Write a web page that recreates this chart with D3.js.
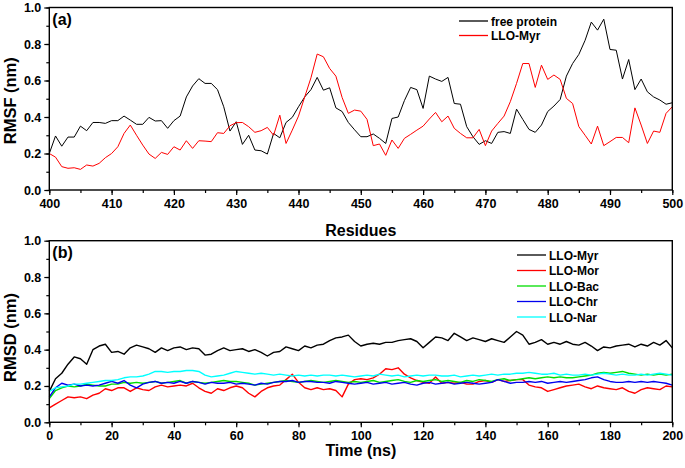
<!DOCTYPE html>
<html>
<head>
<meta charset="utf-8">
<script src="https://cdn.jsdelivr.net/npm/d3@7"></script>
<style>
  body { margin: 0; background: #fff; }
  svg { display: block; font-family: "Liberation Sans", Arial, sans-serif; font-weight: bold; }
</style>
</head>
<body>
<div id="svg-container"></div>
<script>
// panel (a): RMSF per residue
const residues = [400,401,402,403,404,405,406,407,408,409,410,411,412,413,414,415,416,417,418,419,
  420,421,422,423,424,425,426,427,428,429,430,431,432,433,434,435,436,437,438,439,
  440,441,442,443,444,445,446,447,448,449,450,451,452,453,454,455,456,457,458,459,
  460,461,462,463,464,465,466,467,468,469,470,471,472,473,474,475,476,477,478,479,
  480,481,482,483,484,485,486,487,488,489,490,491,492,493,494,495,496,497,498,499,500]

const rmsfFree = [0.20,0.296,0.24,0.29,0.29,0.35,0.325,0.37,0.37,0.365,0.38,0.38,0.405,0.383,0.36,0.36,0.398,0.378,0.38,0.338,
  0.38,0.405,0.51,0.57,0.61,0.584,0.584,0.55,0.456,0.323,0.374,0.25,0.30,0.219,0.215,0.197,0.31,0.286,0.37,0.398,
  0.456,0.51,0.55,0.617,0.547,0.56,0.45,0.43,0.37,0.33,0.292,0.292,0.307,0.283,0.255,0.392,0.40,0.49,0.562,0.55,
  0.447,0.624,0.608,0.595,0.617,0.474,0.47,0.347,0.292,0.25,0.27,0.255,0.316,0.32,0.31,0.443,0.387,0.332,0.316,0.356,
  0.43,0.46,0.496,0.624,0.693,0.743,0.82,0.92,0.876,0.936,0.77,0.766,0.608,0.715,0.55,0.608,0.538,0.51,0.493,0.47,0.478]

const rmsfMyr = [0.20,0.18,0.128,0.119,0.122,0.113,0.137,0.131,0.146,0.177,0.20,0.237,0.31,0.356,0.30,0.246,0.197,0.173,0.206,0.195,
  0.237,0.219,0.27,0.228,0.27,0.268,0.265,0.314,0.31,0.352,0.369,0.37,0.347,0.316,0.325,0.343,0.30,0.41,0.255,0.328,
  0.405,0.51,0.615,0.745,0.73,0.666,0.624,0.507,0.42,0.438,0.432,0.387,0.243,0.252,0.19,0.274,0.228,0.283,0.305,0.328,
  0.35,0.389,0.425,0.374,0.405,0.338,0.31,0.286,0.286,0.332,0.243,0.323,0.365,0.405,0.484,0.584,0.693,0.693,0.562,0.684,
  0.606,0.63,0.606,0.502,0.474,0.347,0.30,0.252,0.35,0.243,0.265,0.288,0.288,0.259,0.45,0.356,0.255,0.323,0.316,0.42,0.456]

// panel (b): RMSD over time
const timeNs = [0,2,4,6,8,10,12,14,16,18,20,22,24,26,28,30,32,34,36,38,40,42,44,46,48,
  50,52,54,56,58,60,62,64,66,68,70,72,74,76,78,80,82,84,86,88,90,92,94,96,98,
  100,102,104,106,108,110,112,114,116,118,120,122,124,126,128,130,132,134,136,138,140,142,144,146,148,
  150,152,154,156,158,160,162,164,166,168,170,172,174,176,178,180,182,184,186,188,190,192,194,196,198,200]

const rmsdMyr = [0.17,0.24,0.27,0.32,0.36,0.35,0.32,0.40,0.42,0.43,0.385,0.39,0.375,0.41,0.425,0.415,0.405,0.385,0.41,0.395,0.41,0.415,0.40,0.41,0.405,
  0.37,0.375,0.395,0.41,0.395,0.40,0.405,0.39,0.40,0.385,0.365,0.385,0.39,0.415,0.405,0.395,0.42,0.41,0.425,0.43,0.45,0.465,0.47,0.48,0.445,
  0.42,0.43,0.435,0.43,0.44,0.44,0.45,0.455,0.46,0.445,0.41,0.44,0.47,0.465,0.45,0.49,0.47,0.45,0.465,0.455,0.445,0.46,0.45,0.44,0.47,
  0.50,0.48,0.43,0.44,0.455,0.43,0.44,0.43,0.445,0.43,0.425,0.44,0.42,0.395,0.415,0.41,0.42,0.425,0.43,0.415,0.43,0.42,0.44,0.425,0.45,0.41]

const rmsdMor = [0.08,0.10,0.12,0.14,0.135,0.14,0.13,0.15,0.16,0.185,0.175,0.19,0.19,0.17,0.19,0.18,0.175,0.195,0.205,0.195,0.20,0.205,0.20,0.215,0.19,
  0.17,0.16,0.185,0.175,0.19,0.20,0.19,0.16,0.14,0.17,0.19,0.20,0.205,0.235,0.265,0.22,0.19,0.18,0.19,0.18,0.185,0.175,0.14,0.21,0.235,
  0.24,0.235,0.245,0.265,0.295,0.29,0.30,0.265,0.245,0.23,0.22,0.215,0.25,0.215,0.22,0.215,0.22,0.21,0.21,0.225,0.23,0.22,0.235,0.225,0.23,
  0.235,0.235,0.205,0.195,0.19,0.17,0.18,0.19,0.20,0.205,0.21,0.195,0.185,0.20,0.19,0.185,0.18,0.19,0.17,0.16,0.18,0.19,0.185,0.18,0.20,0.195]

const rmsdBac = [0.13,0.175,0.19,0.20,0.195,0.20,0.21,0.205,0.20,0.20,0.21,0.21,0.22,0.215,0.22,0.215,0.22,0.225,0.215,0.22,0.225,0.23,0.215,0.225,0.22,
  0.215,0.22,0.225,0.23,0.225,0.225,0.22,0.215,0.205,0.21,0.215,0.22,0.225,0.23,0.225,0.22,0.225,0.23,0.225,0.22,0.225,0.23,0.225,0.22,0.225,
  0.22,0.225,0.23,0.22,0.225,0.23,0.235,0.225,0.22,0.23,0.225,0.23,0.235,0.225,0.23,0.225,0.22,0.23,0.225,0.235,0.23,0.225,0.235,0.24,0.23,
  0.235,0.24,0.245,0.24,0.245,0.25,0.245,0.25,0.245,0.245,0.25,0.255,0.26,0.27,0.275,0.27,0.275,0.28,0.27,0.265,0.26,0.265,0.26,0.265,0.26,0.265]

const rmsdChr = [0.14,0.19,0.215,0.205,0.21,0.20,0.205,0.20,0.205,0.215,0.225,0.215,0.23,0.205,0.19,0.21,0.22,0.225,0.215,0.22,0.215,0.225,0.215,0.225,0.22,
  0.21,0.22,0.215,0.215,0.22,0.21,0.215,0.21,0.205,0.215,0.21,0.22,0.225,0.225,0.23,0.22,0.225,0.225,0.22,0.22,0.215,0.225,0.22,0.215,0.21,
  0.215,0.22,0.21,0.215,0.22,0.21,0.215,0.22,0.21,0.205,0.215,0.22,0.21,0.215,0.22,0.21,0.215,0.22,0.215,0.21,0.215,0.22,0.235,0.225,0.215,
  0.22,0.22,0.225,0.22,0.225,0.215,0.22,0.225,0.22,0.225,0.23,0.235,0.245,0.25,0.235,0.225,0.22,0.22,0.225,0.22,0.225,0.22,0.225,0.22,0.215,0.205]

const rmsdNar = [0.17,0.19,0.195,0.20,0.21,0.21,0.215,0.22,0.225,0.23,0.23,0.235,0.245,0.25,0.25,0.255,0.265,0.28,0.28,0.275,0.28,0.28,0.285,0.285,0.28,
  0.26,0.25,0.255,0.26,0.27,0.28,0.275,0.27,0.265,0.27,0.265,0.26,0.265,0.26,0.255,0.26,0.255,0.26,0.255,0.26,0.26,0.255,0.26,0.255,0.25,
  0.255,0.26,0.255,0.265,0.26,0.255,0.26,0.25,0.255,0.26,0.255,0.26,0.26,0.255,0.255,0.26,0.25,0.255,0.26,0.255,0.26,0.265,0.26,0.265,0.265,
  0.27,0.27,0.275,0.27,0.265,0.265,0.27,0.26,0.265,0.26,0.26,0.265,0.26,0.265,0.27,0.265,0.26,0.265,0.26,0.26,0.265,0.26,0.265,0.27,0.265,0.26]

const seriesA = [
  { name: "free protein", values: rmsfFree, color: "#000000" },
  { name: "LLO-Myr", values: rmsfMyr, color: "#ff0000" }
]
const seriesB = [
  { name: "LLO-Myr", values: rmsdMyr, color: "#000000" },
  { name: "LLO-Mor", values: rmsdMor, color: "#ff0000" },
  { name: "LLO-Bac", values: rmsdBac, color: "#00dd00" },
  { name: "LLO-Chr", values: rmsdChr, color: "#0000ee" },
  { name: "LLO-Nar", values: rmsdNar, color: "#00ffff" }
]

const svg = d3.select("#svg-container")
  .append("svg")
    .attr("width", 685)
    .attr("height", 468)

const left = 49.3, right = 672.3

const drawPanel = (cfg) => {
  const x = d3.scaleLinear().domain(cfg.xDomain).range([left, right])
  const y = d3.scaleLinear().domain([0, 1]).range([cfg.bottom, cfg.top])
  const g = svg.append("g")

  // minor ticks
  g.append("g")
    .attr("transform", `translate(0,${cfg.bottom})`)
    .call(d3.axisBottom(x).ticks(cfg.minorX).tickSize(3).tickFormat(""))
    .call(a => a.select(".domain").remove())
  g.append("g")
    .attr("transform", `translate(${left},0)`)
    .call(d3.axisLeft(y).ticks(10).tickSize(3).tickFormat(""))
    .call(a => a.select(".domain").remove())

  // major ticks + labels
  const xa = g.append("g")
    .attr("transform", `translate(0,${cfg.bottom})`)
    .call(d3.axisBottom(x).ticks(cfg.majorX).tickSize(5).tickPadding(4).tickFormat(d3.format("d")))
  xa.select(".domain").remove()
  xa.selectAll("text")
    .style("font-family", "'Liberation Sans', Arial, sans-serif")
    .style("font-weight", "bold")
    .style("font-size", "12.5px")
    .attr("fill", "#000")

  const ya = g.append("g")
    .attr("transform", `translate(${left},0)`)
    .call(d3.axisLeft(y).ticks(5).tickSize(5).tickPadding(3).tickFormat(d3.format(".1f")))
  ya.select(".domain").remove()
  ya.selectAll("text")
    .style("font-family", "'Liberation Sans', Arial, sans-serif")
    .style("font-weight", "bold")
    .style("font-size", "12.5px")
    .attr("fill", "#000")

  g.selectAll(".tick line").attr("stroke", "#000").attr("stroke-width", 1.2)

  const line = d3.line()
    .x((d, i) => x(cfg.xs[i]))
    .y(d => y(d))

  g.selectAll("path.series")
    .data(cfg.series)
    .join("path")
      .attr("class", "series")
      .attr("d", d => line(d.values))
      .attr("fill", "none")
      .attr("stroke", d => d.color)
      .attr("stroke-width", cfg.lineWidth)
      .attr("stroke-linejoin", "round")

  // frame
  g.append("rect")
    .attr("x", left)
    .attr("y", cfg.top)
    .attr("width", right - left)
    .attr("height", cfg.bottom - cfg.top)
    .attr("fill", "none")
    .attr("stroke", "#000")
    .attr("stroke-width", 1.4)

  g.append("text")
    .text(cfg.label)
    .attr("x", left + 3)
    .attr("y", cfg.top + 17)
    .style("font-size", "16px")

  g.append("text")
    .text(cfg.yTitle)
    .attr("transform", `translate(16,${(cfg.top + cfg.bottom) / 2 + cfg.yTitleDy}) rotate(-90)`)
    .attr("text-anchor", "middle")
    .style("font-size", "16.5px")

  g.append("text")
    .text(cfg.xTitle)
    .attr("x", (left + right) / 2)
    .attr("y", cfg.bottom + cfg.xTitleDy)
    .attr("text-anchor", "middle")
    .style("font-size", "16px")

  // legend
  const leg = g.selectAll("g.leg")
    .data(cfg.series)
    .join("g")
      .attr("class", "leg")
      .attr("transform", (d, i) => `translate(${cfg.legX},${cfg.legY + i * cfg.legStep})`)
  leg.append("line")
    .attr("x1", 0).attr("x2", 29)
    .attr("stroke", d => d.color)
    .attr("stroke-width", 1.3)
  leg.append("text")
    .text(d => d.name)
    .attr("x", 32)
    .attr("y", 4.5)
    .style("font-size", "12px")
}

drawPanel({
  xDomain: [400, 500], xs: residues, series: seriesA,
  top: 7.5, bottom: 190, majorX: 10, minorX: 20,
  label: "(a)", yTitle: "RMSF (nm)", yTitleDy: 2, xTitle: "Residues", xTitleDy: 46,
  legX: 459, legY: 21, legStep: 14.5, lineWidth: 1
})

drawPanel({
  xDomain: [0, 200], xs: timeNs, series: seriesB,
  top: 240.7, bottom: 422.3, majorX: 10, minorX: 20,
  label: "(b)", yTitle: "RMSD (nm)", yTitleDy: 6, xTitle: "Time (ns)", xTitleDy: 34,
  legX: 517, legY: 255, legStep: 15.5, lineWidth: 1.4
})
</script>
</body>
</html>
